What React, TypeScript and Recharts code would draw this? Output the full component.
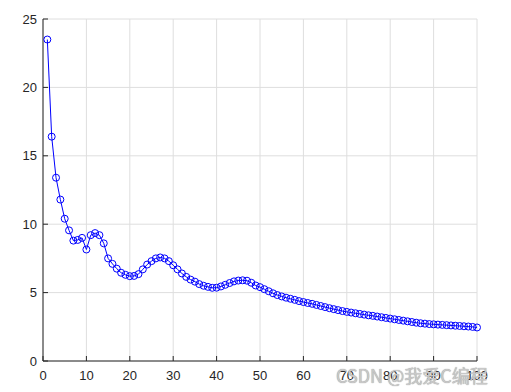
import { LineChart, Line, XAxis, YAxis, CartesianGrid } from "recharts";

const xs = Array.from({ length: 100 }, (_, i) => i + 1);

const ys = [
  23.5, 16.4, 13.4, 11.8, 10.4, 9.55, 8.8, 8.85, 9.0, 8.15,
  9.2, 9.35, 9.2, 8.6, 7.5, 7.1, 6.75, 6.45, 6.3, 6.2,
  6.22, 6.35, 6.7, 7.05, 7.3, 7.5, 7.57, 7.5, 7.3, 7.0,
  6.7, 6.4, 6.15, 5.95, 5.8, 5.62, 5.5, 5.42, 5.35, 5.36,
  5.45, 5.57, 5.7, 5.82, 5.88, 5.9, 5.87, 5.72, 5.52, 5.4,
  5.25, 5.1, 4.95, 4.82, 4.72, 4.63, 4.55, 4.47, 4.38, 4.31,
  4.24, 4.18, 4.1, 4.02, 3.94, 3.86, 3.79, 3.72, 3.65, 3.59,
  3.54, 3.49, 3.44, 3.39, 3.34, 3.3, 3.25, 3.2, 3.15, 3.1,
  3.05, 3.0, 2.95, 2.9, 2.85, 2.8, 2.76, 2.73, 2.7, 2.68,
  2.66, 2.64, 2.62, 2.6, 2.58, 2.56, 2.54, 2.52, 2.49, 2.45,
];

const xTicks = [0, 10, 20, 30, 40, 50, 60, 70, 80, 90, 100];
const yTicks = [0, 5, 10, 15, 20, 25];

const data = xs.map((x, i) => ({ x, y: ys[i] }));

const axisColor = "#262626";
const tickFont = { fontSize: 13, fill: "#262626", fontFamily: "Liberation Sans, Arial, sans-serif" };

export default function App() {
  return (
    <div style={{ position: "absolute", left: 0, top: 0, width: 511, height: 392, background: "#fff" }}>
      <LineChart width={511} height={392} data={data} margin={{ top: 19, right: 34, left: 0, bottom: 0 }}>
        <CartesianGrid stroke="#dedede" vertical horizontal />
        <XAxis
          dataKey="x"
          type="number"
          domain={[0, 100]}
          ticks={xTicks}
          height={31}
          stroke={axisColor}
          tick={tickFont}
          tickSize={-5}
          tickMargin={15}
        />
        <XAxis
          xAxisId="top"
          orientation="top"
          dataKey="x"
          type="number"
          domain={[0, 100]}
          ticks={xTicks}
          height={0}
          stroke={axisColor}
          tickFormatter={() => ""}
          tickSize={-5}
        />
        <YAxis
          type="number"
          domain={[0, 25]}
          ticks={yTicks}
          width={43}
          stroke={axisColor}
          tick={tickFont}
          tickSize={-5}
          tickMargin={11}
        />
        <YAxis
          yAxisId="right"
          orientation="right"
          type="number"
          domain={[0, 25]}
          ticks={yTicks}
          width={0}
          stroke={axisColor}
          tickFormatter={() => ""}
          tickSize={-5}
        />
        <Line
          dataKey="y"
          type="linear"
          stroke="#0000ff"
          strokeWidth={1}
          dot={{ r: 3.5, stroke: "#0000ff", strokeWidth: 1, fill: "none" }}
          isAnimationActive={false}
        />
      </LineChart>
      <div
        style={{
          position: "absolute",
          left: 336,
          top: 362,
          fontSize: 18,
          fontFamily: "Noto Sans CJK SC, sans-serif",
          color: "#c8c8c8",
          textShadow: "0 0 1px #888",
          whiteSpace: "nowrap",
        }}
      >
        CSDN @我爱C编程
      </div>
    </div>
  );
}
